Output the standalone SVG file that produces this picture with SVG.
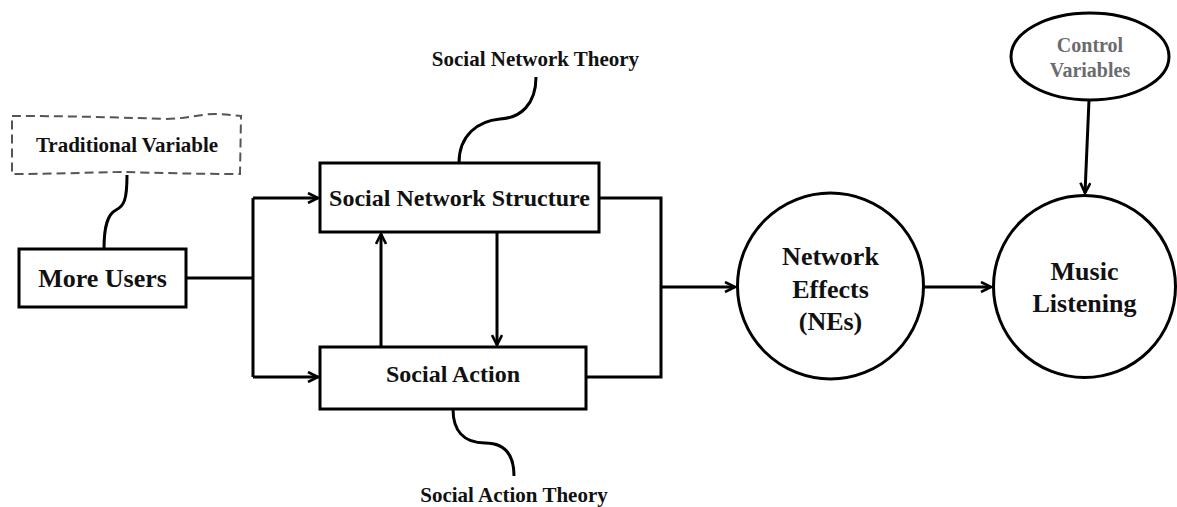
<svg xmlns="http://www.w3.org/2000/svg" width="1177" height="507" viewBox="0 0 1177 507">
  <style>
    .box { fill: #fff; stroke: #000; stroke-width: 3; }
    .wire { fill: none; stroke: #000; stroke-width: 3; }
    .t { font-family: "Liberation Serif", "Times New Roman", serif; font-weight: bold; text-anchor: middle; fill: #111; }
    .big { font-size: 26px; }
    .mid { font-size: 24px; }
    .small { font-size: 21px; }
    .ctrl { font-size: 20px; fill: #6b6b6b; }
  </style>
  <defs>
    <marker id="arrow" viewBox="0 0 12 12" refX="11" refY="6" markerWidth="12" markerHeight="12" markerUnits="userSpaceOnUse" orient="auto">
      <path d="M1,1 L11,6 L1,11" fill="none" stroke="#000" stroke-width="2.6"/>
    </marker>
  </defs>

  <!-- connectors -->
  <g id="connectors">
    <path class="wire" d="M186,278 H253"/>
    <path class="wire" d="M253,198 V377"/>
    <path class="wire" d="M253,198 H318" marker-end="url(#arrow)"/>
    <path class="wire" d="M253,377 H318" marker-end="url(#arrow)"/>
    <path class="wire" d="M381,347 V234" marker-end="url(#arrow)"/>
    <path class="wire" d="M497,232 V345" marker-end="url(#arrow)"/>
    <path class="wire" d="M599,198 H661 V377 H586"/>
    <path class="wire" d="M661,287 H735" marker-end="url(#arrow)"/>
    <path class="wire" d="M924,287 H991" marker-end="url(#arrow)"/>
    <path class="wire" d="M1089,100 L1085,193" marker-end="url(#arrow)"/>
    <!-- theory links -->
    <path class="wire" d="M127,175 C127,200 124,206 116,210 C108,214 104,225 104,249"/>
    <path class="wire" d="M536,77 C536,105 520,118 500,119 C478,121 459,135 459,163"/>
    <path class="wire" d="M453,409 C453,430 463,443 485,443 C505,443 514,455 514,476"/>
  </g>

  <g id="traditional-variable">
    <path d="M12,116 C60,116 110,117 165,119 C185,119 200,114 215,114 C228,114 236,116 241,116 L240,174 C200,174 160,173 125,172 C100,172 60,174 12,174 Z" fill="#fff" stroke="#555" stroke-width="2" stroke-dasharray="9,5"/>
    <text class="t small" x="127" y="152">Traditional Variable</text>
  </g>

  <g id="more-users">
    <rect class="box" x="19" y="249" width="167" height="58"/>
    <text class="t big" x="102.5" y="287">More Users</text>
  </g>

  <g id="social-network-theory">
    <text class="t small" x="535.5" y="66">Social Network Theory</text>
  </g>

  <g id="social-network-structure">
    <rect class="box" x="320" y="163" width="279" height="69"/>
    <text class="t mid" x="459.5" y="206">Social Network Structure</text>
  </g>

  <g id="social-action">
    <rect class="box" x="320" y="347" width="266" height="62"/>
    <text class="t mid" x="453" y="382">Social Action</text>
  </g>

  <g id="social-action-theory">
    <text class="t small" x="514" y="502">Social Action Theory</text>
  </g>

  <g id="network-effects">
    <circle class="box" cx="830.5" cy="286" r="93"/>
    <text class="t big" x="830.5" y="265">Network</text>
    <text class="t big" x="830.5" y="298">Effects</text>
    <text class="t big" x="830.5" y="330">(NEs)</text>
  </g>

  <g id="control-variables">
    <ellipse class="box" cx="1090" cy="56.5" rx="79" ry="43.5"/>
    <text class="t ctrl" x="1090" y="52">Control</text>
    <text class="t ctrl" x="1090" y="77">Variables</text>
  </g>

  <g id="music-listening">
    <circle class="box" cx="1084.5" cy="286.5" r="91"/>
    <text class="t big" x="1084.5" y="280">Music</text>
    <text class="t big" x="1084.5" y="312">Listening</text>
  </g>
</svg>
